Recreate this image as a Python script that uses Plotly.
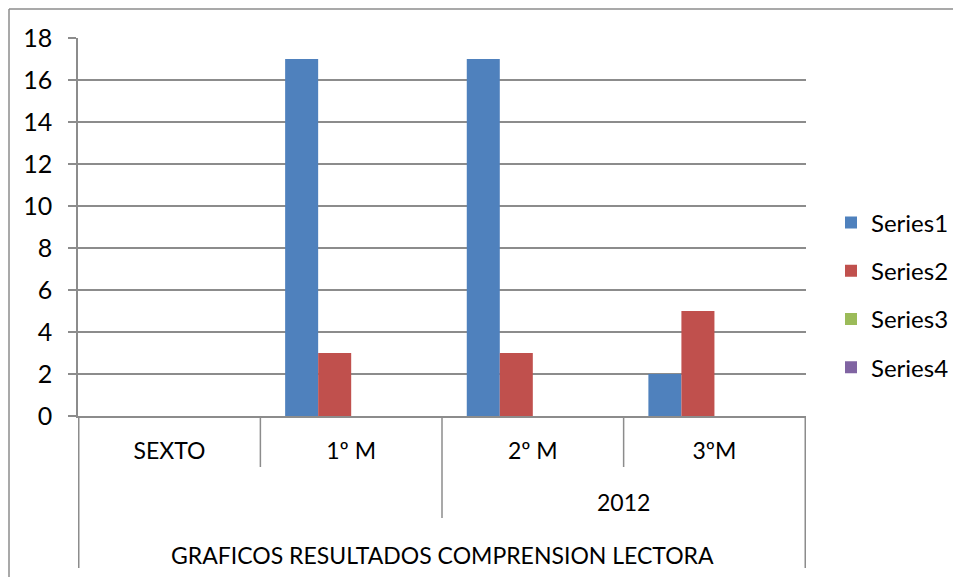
import plotly.graph_objects as go

categories = ["SEXTO", "1º M", "2º M", "3ºM"]
series_names = ["Series1", "Series2", "Series3", "Series4"]
series1 = [0, 17, 17, 2]
series2 = [0, 3, 3, 5]
series3 = [None, None, None, None]
series4 = [None, None, None, None]
year_label = "2012"
outer_label = "GRAFICOS RESULTADOS COMPRENSION LECTORA"
y_ticks = [0, 2, 4, 6, 8, 10, 12, 14, 16, 18]

colors = ["#4F81BD", "#C0504D", "#9BBB59", "#8064A2"]
line_col = "#8c8c8c"
font = "Lato, sans-serif"

# page body has an 8px margin, so the figure is drawn offset by 8px
OFF = 8
W, H = 961 - OFF, 577 - OFF
L, R, T, B = 78 - OFF, 155, 38 - OFF, 161
pw, ph = W - L - R, H - T - B


def py(screen_y):
    # screen pixel row -> paper y
    return (H - B - (screen_y - OFF)) / ph


def pxx(screen_x):
    return (screen_x - OFF - L) / pw


fig = go.Figure()
for i, (name, vals) in enumerate(zip(series_names, [series1, series2, series3, series4])):
    fig.add_trace(go.Bar(
        x=categories, y=vals, name=name, legendgroup=name,
        marker=dict(color=colors[i], line=dict(width=0)),
    ))

shapes = []
# level separators below the axis
for xc, bottom in [(0.5, 467), (2.5, 467), (1.5, 518), (-0.5, 568), (3.5, 568)]:
    shapes.append(dict(type="line", xref="x", yref="paper", x0=xc, x1=xc,
                       y0=0, y1=py(bottom), line=dict(color=line_col, width=1.5)))
# chart border (left and top)
shapes.append(dict(type="line", xref="paper", yref="paper", x0=pxx(9), x1=pxx(9),
                   y0=py(9), y1=py(590), line=dict(color=line_col, width=1.5)))
shapes.append(dict(type="line", xref="paper", yref="paper", x0=pxx(9), x1=pxx(975),
                   y0=py(9), y1=py(9), line=dict(color=line_col, width=1.5)))

annotations = [
    dict(text=year_label, xref="x", yref="paper", x=2.5, y=py(502),
         showarrow=False, yanchor="middle", font=dict(size=23, color="black", family=font)),
    dict(text=outer_label, xref="x", yref="paper", x=1.5, y=py(555),
         showarrow=False, yanchor="middle", font=dict(size=23, color="black", family=font)),
]

fig.update_layout(
    width=W, height=H,
    margin=dict(l=L, r=R, t=T, b=B, pad=0, autoexpand=False),
    paper_bgcolor="white", plot_bgcolor="white",
    font=dict(family=font, size=23, color="black"),
    barmode="group", bargap=1.5 / 5.5, bargroupgap=0,
    showlegend=True,
    legend=dict(x=(831 - OFF) / W, xanchor="left", xref="container",
                y=1 - (295 - OFF) / H, yanchor="middle", yref="container",
                font=dict(size=24, family=font), traceorder="grouped",
                tracegroupgap=14, itemclick=False),
    shapes=shapes, annotations=annotations,
)
fig.update_xaxes(showline=True, linecolor=line_col, linewidth=1.5, ticks="",
                 showgrid=False, ticklabelstandoff=14, tickfont=dict(size=23))
fig.update_yaxes(range=[0, 18], tickvals=y_ticks, showgrid=True, gridcolor=line_col,
                 gridwidth=1.5, showline=True, linecolor=line_col, linewidth=1.5,
                 ticks="outside", ticklen=8, tickcolor=line_col, tickwidth=1.5,
                 ticklabelstandoff=11, zeroline=False, tickfont=dict(size=25))

fig.write_html("out.html")
